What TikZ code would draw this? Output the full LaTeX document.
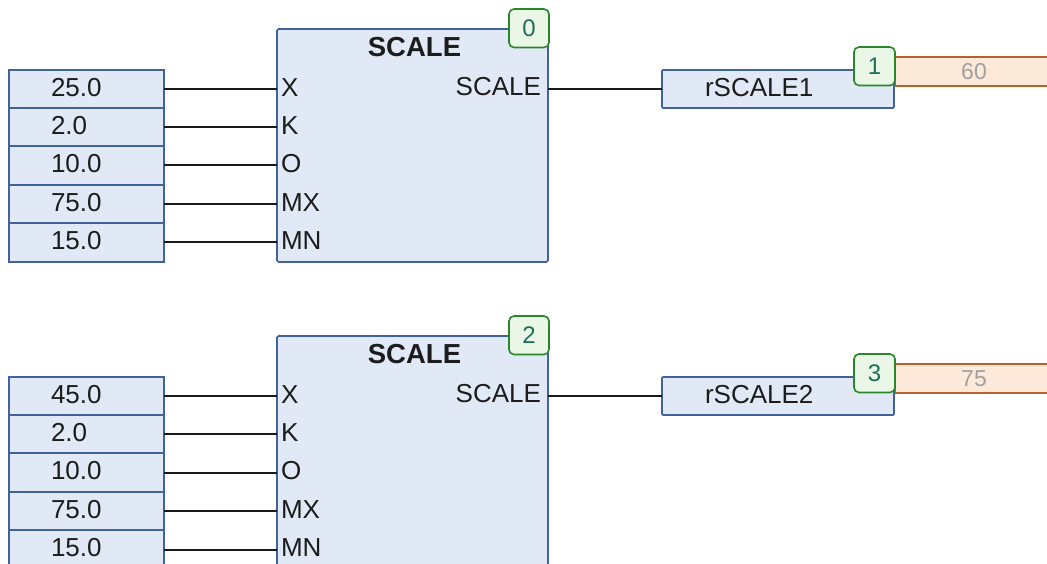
\documentclass[tikz,border=0pt]{standalone}
\usepackage{fontspec}
\setmainfont{Liberation Sans}
\definecolor{boxfill}{HTML}{E1E9F6}
\definecolor{boxline}{HTML}{42629C}
\definecolor{badgefill}{HTML}{EAF6E6}
\definecolor{badgeline}{HTML}{2A862A}
\definecolor{badgetext}{HTML}{1E6E5A}
\definecolor{valfill}{HTML}{FDE9DA}
\definecolor{valline}{HTML}{B4622A}
\definecolor{valtext}{HTML}{A0A0A0}
\definecolor{txt}{HTML}{1C1C1C}
\tikzset{
  base/.style={inner sep=0pt, outer sep=0pt},
  inbox/.style={base, draw=boxline, fill=boxfill, line width=1.6pt, anchor=north west, minimum width=155pt},
  fbbox/.style={base, draw=boxline, fill=boxfill, line width=1.6pt, anchor=north west, rounded corners=1.5pt},
  outbox/.style={base, draw=boxline, fill=boxfill, line width=1.6pt, anchor=north west, rounded corners=1pt, minimum width=232pt, minimum height=38pt},
  badge/.style={base, draw=badgeline, fill=badgefill, line width=1.6pt, anchor=north west, rounded corners=5pt, minimum width=40pt, minimum height=38.5pt, text=badgetext, font=\fontsize{24}{28}\selectfont},
  valbox/.style={base, draw=valline, fill=valfill, line width=1.6pt, anchor=north west, minimum width=170pt, minimum height=29pt},
  vtxt/.style={base, text=valtext, font=\fontsize{23}{27}\selectfont},
  t/.style={base, text=txt, font=\fontsize{26}{30}\selectfont},
  ttl/.style={base, text=txt, font=\fontsize{27.5}{31}\selectfont\bfseries},
  wire/.style={line width=2pt, draw=black!90}
}
\begin{document}
\begin{tikzpicture}[x=1pt,y=-1pt]
\useasboundingbox (0,0) rectangle (1047,564);
\clip (0,0) rectangle (1047,564);
\foreach \off/\blk/\first/\outname/\bA/\bB/\val in {0/A/25.0/rSCALE1/0/1/60, 307/B/45.0/rSCALE2/2/3/75} {
  % function block
  \node[fbbox, minimum width=271pt, minimum height=233pt] (fb\blk) at (277,29+\off) {};
  \node[ttl] (title\blk) at (414.5,47.5+\off) {SCALE};
  \node[t, anchor=east] (outlbl\blk) at (541,86.5+\off) {SCALE};
  \node[badge] (badge\blk) at (509,9+\off) {\bA};
  % inputs
  \foreach \v/\yt/\h [count=\i from 0] in {\first/70/38, 2.0/108/38, 10.0/146/39, 75.0/185/38, 15.0/223/39} {
    \node[inbox, minimum height=\h pt] (in\blk\i) at (9,\yt+\off) {};
    \node[t, anchor=west] (intxt\blk\i) at (51,\yt+17.5+\off) {\v};
    \draw[wire] (in\blk\i.east) -- (in\blk\i.east -| fb\blk.west);
  }
  \foreach \p/\yt [count=\i from 0] in {X/70, K/108, O/146, MX/185, MN/223} {
    \node[t, anchor=west] (pin\blk\i) at (281,\yt+17.5+\off) {\p};
  }
  % output
  \node[valbox] (val\blk) at (895,57+\off) {};
  \node[vtxt] (valtxt\blk) at (974,71.5+\off) {\val};
  \node[outbox] (out\blk) at (662,70+\off) {};
  \node[t, anchor=west] (outtxt\blk) at (705,87.5+\off) {\outname};
  \node[badge, minimum width=41pt] (badgeo\blk) at (854,47+\off) {\bB};
  \draw[wire] (out\blk.west -| fb\blk.east) -- (out\blk.west);
}
\end{tikzpicture}
\end{document}
